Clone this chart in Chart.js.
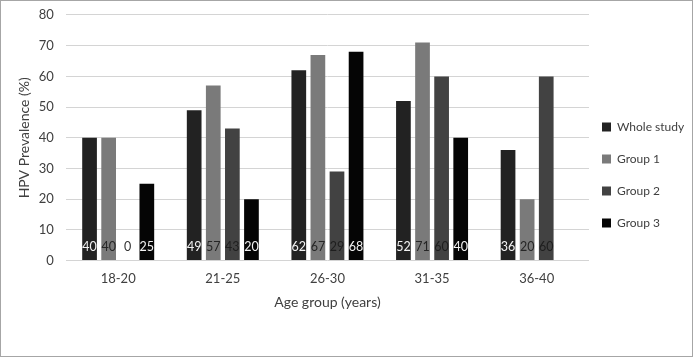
<!DOCTYPE html>
<html>
<head>
<meta charset="utf-8">
<script src="https://cdn.jsdelivr.net/npm/chart.js@4/dist/chart.umd.min.js"></script>
<style>
  html, body { margin: 0; padding: 0; background: #fff; }
  #wrap { width: 693px; height: 357px; position: relative; }
</style>
</head>
<body>
<div id="wrap"><canvas id="chart"></canvas></div>
<script>
const ageGroups = ['18-20', '21-25', '26-30', '31-35', '36-40'];
const wholeStudy = [40, 49, 62, 52, 36];
const group1 = [40, 57, 67, 71, 20];
const group2 = [0, 43, 29, 60, 60];
const group3 = [25, 20, 68, 40, null];
const seriesNames = ['Whole study', 'Group 1', 'Group 2', 'Group 3'];
const seriesColors = ['#222222', '#7a7a7a', '#424242', '#050505'];
const labelColors = ['#f2f2f2', '#262626', '#1e1e1e', '#f2f2f2'];

const FONT = 'Lato, "Liberation Sans", sans-serif';
const TEXT = '#404040';

// values written near the base of every bar, like Excel's "inside base" labels
const baseLabels = {
  id: 'baseLabels',
  afterDatasetsDraw(chart) {
    const ctx = chart.ctx;
    const bottom = chart.chartArea.bottom;
    ctx.save();
    ctx.font = '12.5px ' + FONT;
    ctx.textAlign = 'center';
    ctx.textBaseline = 'middle';
    chart.data.datasets.forEach((ds, i) => {
      chart.getDatasetMeta(i).data.forEach((bar, j) => {
        const v = ds.data[j];
        if (v === null || v === undefined) return;
        ctx.fillStyle = v === 0 ? '#333333' : labelColors[i];
        ctx.fillText(String(v), bar.x, bottom - 14);
      });
    });
    ctx.restore();
  }
};

// nudge the legend block closer to the plot and lower, as in the original
const legendNudge = {
  id: 'legendNudge',
  afterLayout(chart) {
    const lg = chart.legend;
    if (!lg) return;
    lg.left -= 7; lg.right -= 7;
    lg.top += 17; lg.bottom += 17;
  }
};

const frame = {
  id: 'frame',
  afterDraw(chart) {
    const ctx = chart.ctx;
    ctx.save();
    ctx.strokeStyle = '#a6a6a6';
    ctx.lineWidth = 1;
    ctx.strokeRect(0.5, 0.5, chart.width - 1, chart.height - 1);
    ctx.restore();
  }
};

const datasets = [wholeStudy, group1, group2, group3].map((vals, i) => ({
  label: seriesNames[i],
  data: vals,
  backgroundColor: seriesColors[i],
  borderWidth: 0,
  categoryPercentage: 0.73,
  barPercentage: 0.77
}));

new Chart(document.getElementById('chart'), {
  type: 'bar',
  data: { labels: ageGroups, datasets: datasets },
  plugins: [baseLabels, legendNudge, frame],
  options: {
    responsive: true,
    maintainAspectRatio: false,
    animation: false,
    layout: { padding: { left: 16, top: 5, right: 0, bottom: 46 } },
    plugins: {
      tooltip: { enabled: false },
      legend: {
        position: 'right',
        maxWidth: 104,
        labels: {
          boxWidth: 9,
          boxHeight: 9,
          padding: 20,
          color: TEXT,
          font: { family: FONT, size: 12 }
        }
      }
    },
    scales: {
      x: {
        grid: { display: false, drawTicks: false },
        border: { display: false },
        ticks: { color: TEXT, font: { family: FONT, size: 13 }, padding: 10 },
        title: {
          display: true,
          text: 'Age group (years)',
          color: TEXT,
          font: { family: FONT, size: 14 },
          padding: { top: -2, bottom: 0 }
        }
      },
      y: {
        min: 0,
        max: 80,
        ticks: { stepSize: 10, color: TEXT, font: { family: FONT, size: 13, lineHeight: 0.46 }, padding: 12 },
        grid: { color: '#d4d4d4', drawTicks: false },
        border: { display: false },
        title: {
          display: true,
          text: 'HPV Prevalence (%)',
          color: TEXT,
          font: { family: FONT, size: 14 },
          padding: { top: 0, bottom: -6 }
        }
      }
    }
  }
});
</script>
</body>
</html>
